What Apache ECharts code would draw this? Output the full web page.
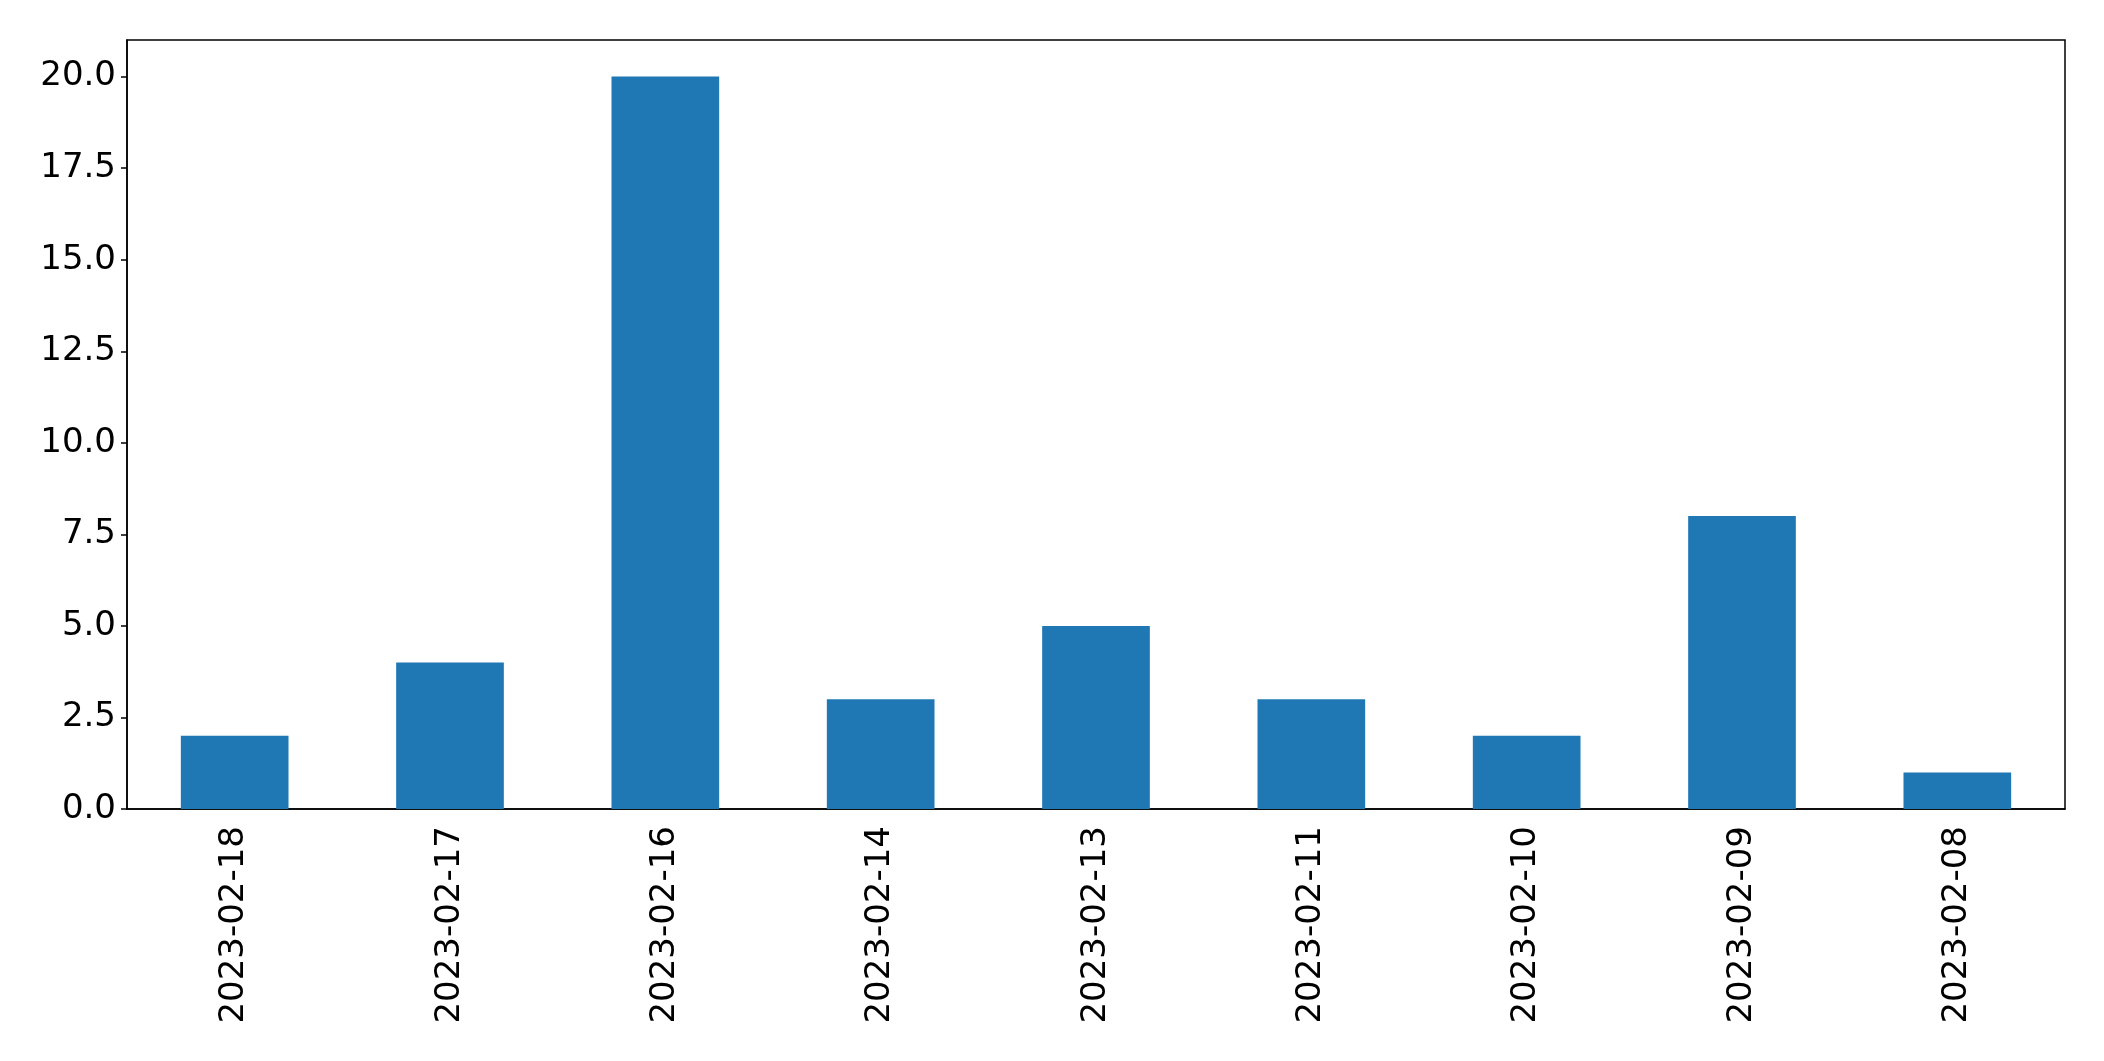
<!DOCTYPE html>
<html><head><meta charset="utf-8">
<script src="https://cdn.jsdelivr.net/npm/echarts@6/dist/echarts.min.js"></script>
<style>html,body{margin:0;padding:0;background:#fff}#c{width:2104px;height:1061px}</style>
</head><body><div id="c"></div>
<script>
const categories = ['2023-02-18','2023-02-17','2023-02-16','2023-02-14','2023-02-13','2023-02-11','2023-02-10','2023-02-09','2023-02-08'];
const values = [2, 4, 20, 3, 5, 3, 2, 8, 1];
const yTicks = [0, 2.5, 5, 7.5, 10, 12.5, 15, 17.5, 20];

const chart = echarts.init(document.getElementById('c'), null, {renderer: 'canvas'});
const font = 'DejaVu Sans';
chart.setOption({
  animation: false,
  backgroundColor: '#fff',
  grid: {left: 127, top: 40, width: 1938, height: 769, containLabel: false, show: true, borderColor: '#000', borderWidth: 1.5, backgroundColor: 'transparent'},
  xAxis: {
    type: 'category', data: categories,
    axisLine: {lineStyle: {color: '#000', width: 1.5}},
    axisTick: {alignWithLabel: true, length: 6, lineStyle: {color: '#000', width: 1.5}},
    axisLabel: {rotate: 90, fontFamily: font, fontSize: 34, color: '#000', margin: 17, interval: 0},
    splitLine: {show: false}
  },
  yAxis: {
    type: 'value', min: 0, max: 21,
    axisLine: {show: true, lineStyle: {color: '#000', width: 1.5}},
    axisTick: {show: true, length: 6, customValues: yTicks, lineStyle: {color: '#000', width: 1.5}},
    axisLabel: {fontFamily: font, fontSize: 34, color: '#000', margin: 11, customValues: yTicks,
      formatter: v => v.toFixed(1)},
    splitLine: {show: false}
  },
  series: [{type: 'bar', data: values, barWidth: '50%', itemStyle: {color: '#1f77b4'}}]
});
</script></body></html>
